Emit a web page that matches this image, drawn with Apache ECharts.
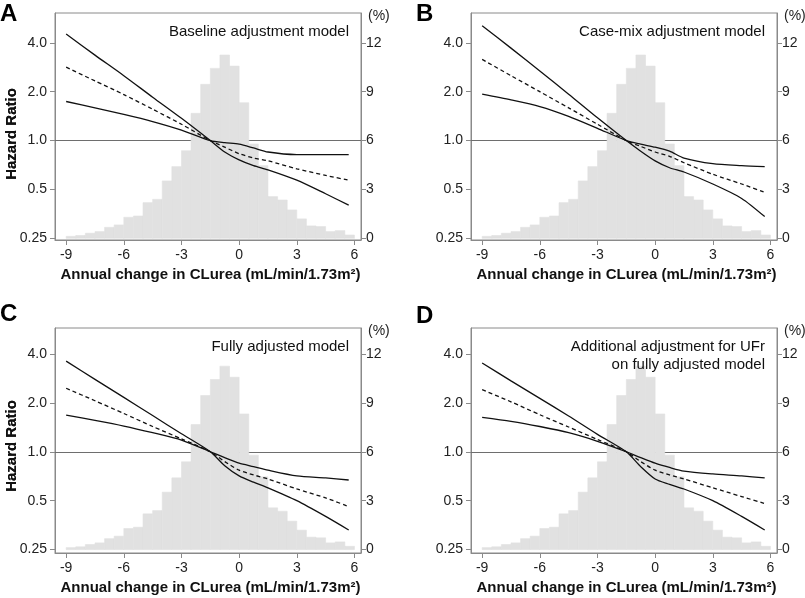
<!DOCTYPE html>
<html>
<head>
<meta charset="utf-8">
<script src="https://cdn.jsdelivr.net/npm/echarts@6/dist/echarts.min.js"></script>
<style>
html,body{margin:0;padding:0;background:#fff;}
#chart{width:805px;height:598px;}
</style>
</head>
<body>
<div id="chart"></div>
<script>
// ---------- data ----------
const panelLetters = ['A', 'B', 'C', 'D'];
const panelTitles = [
  ['Baseline adjustment model'],
  ['Case-mix adjustment model'],
  ['Fully adjusted model'],
  ['Additional adjustment for UFr', 'on fully adjusted model']
];
const xTitle = 'Annual change in CLurea (mL/min/1.73m\u00B2)';
const yTitle = 'Hazard Ratio';
const xTicks = [-9, -6, -3, 0, 3, 6];
const hrTicks = [0.25, 0.5, 1.0, 2.0, 4.0];
const hrTickLabels = ['0.25', '0.5', '1.0', '2.0', '4.0'];
const pctTicks = [0, 3, 6, 9, 12];
const pctTickLabels = ['0', '3', '6', '9', '12'];
const refHR = 1.0;

// histogram (%), bins of width 0.5 from -9 to 6
const binStart = [-9, -8.5, -8, -7.5, -7, -6.5, -6, -5.5, -5, -4.5, -4, -3.5, -3, -2.5, -2,
                  -1.5, -1, -0.5, 0, 0.5, 1, 1.5, 2, 2.5, 3, 3.5, 4, 4.5, 5, 5.5];
const binWidth = 0.5;
const histPct = [0.12, 0.17, 0.31, 0.41, 0.67, 0.82, 1.29, 1.37, 2.19, 2.39, 3.52, 4.40, 5.38, 7.67, 9.45,
                 10.43, 11.25, 10.57, 8.32, 5.79, 4.46, 2.56, 2.35, 1.74, 1.19, 0.76, 0.72, 0.41, 0.47, 0.20];

// spline curves (hazard ratio) evaluated at these x values
const curveX = [-9, -7.5, -6, -4.5, -3, -1.5, -0.75, 0, 0.75, 1.5, 3, 4.5, 5.7];
// Panel A
const aSteep  = [4.53, 3.36, 2.51, 1.85, 1.37, 1.00, 0.85, 0.76, 0.70, 0.66, 0.57, 0.47, 0.40];
const aHR     = [2.83, 2.33, 1.92, 1.56, 1.26, 1.00, 0.91, 0.83, 0.78, 0.75, 0.67, 0.61, 0.57];
const aFlat   = [1.74, 1.59, 1.45, 1.31, 1.16, 1.00, 0.97, 0.95, 0.90, 0.85, 0.82, 0.82, 0.82];
// Panel B
const bSteep  = [5.10, 3.71, 2.68, 1.93, 1.38, 1.00, 0.86, 0.75, 0.68, 0.64, 0.54, 0.44, 0.34];
const bHR     = [3.16, 2.51, 2.00, 1.59, 1.26, 1.00, 0.92, 0.85, 0.80, 0.73, 0.62, 0.54, 0.48];
const bFlat   = [1.93, 1.78, 1.62, 1.41, 1.19, 1.00, 0.95, 0.91, 0.86, 0.78, 0.72, 0.70, 0.69];
// Panel C
const cSteep  = [3.61, 2.79, 2.16, 1.67, 1.29, 1.00, 0.82, 0.71, 0.65, 0.60, 0.50, 0.40, 0.33];
const cHR     = [2.46, 2.06, 1.72, 1.43, 1.20, 1.00, 0.87, 0.77, 0.72, 0.68, 0.59, 0.52, 0.46];
const cFlat   = [1.68, 1.56, 1.44, 1.31, 1.18, 1.00, 0.92, 0.85, 0.81, 0.77, 0.71, 0.69, 0.67];
// Panel D
const dSteep  = [3.52, 2.73, 2.13, 1.66, 1.28, 1.00, 0.81, 0.68, 0.63, 0.59, 0.50, 0.40, 0.33];
const dHR     = [2.41, 2.03, 1.69, 1.42, 1.19, 1.00, 0.87, 0.77, 0.72, 0.68, 0.60, 0.53, 0.48];
const dFlat   = [1.63, 1.54, 1.43, 1.31, 1.16, 1.00, 0.92, 0.85, 0.80, 0.76, 0.73, 0.71, 0.69];

const panelCurves = [
  [aSteep, aHR, aFlat],
  [bSteep, bHR, bFlat],
  [cSteep, cHR, cFlat],
  [dSteep, dHR, dFlat]
];

// ---------- layout ----------
const FONT = 'Liberation Sans, Arial, Helvetica, sans-serif';
const xMin = -9.58, xMax = 6.34;
const layouts = [
  {left: 55,  top: 13,  width: 306, height: 227, yMin: -2.035, yMax: 2.61, yTitleY: 134},
  {left: 471, top: 13,  width: 306, height: 227, yMin: -2.035, yMax: 2.61, yTitleY: 134},
  {left: 55,  top: 328, width: 306, height: 225, yMin: -2.07,  yMax: 2.53, yTitleY: 446},
  {left: 471, top: 328, width: 306, height: 225, yMin: -2.07,  yMax: 2.53, yTitleY: 446}
];
const letterPos = [[0, 2], [416, 2], [0, 302], [416, 304]];

const log2 = v => Math.log(v) / Math.LN2;
const axisColor = '#8a8a8a';
const labelColor = '#222';

const grids = [], xAxes = [], yAxes = [], series = [], graphics = [];

layouts.forEach((L, i) => {
  grids.push({left: L.left, top: L.top, width: L.width, height: L.height,
              show: true, borderColor: axisColor, borderWidth: 1, backgroundColor: 'transparent'});
  xAxes.push({
    type: 'value', gridIndex: i, min: xMin, max: xMax, position: 'bottom',
    name: xTitle, nameLocation: 'middle', nameGap: 27,
    nameTextStyle: {fontFamily: FONT, fontSize: 15, fontWeight: 'bold', color: '#111', padding: [0, 0, 0, 5]},
    axisLine: {show: true, onZero: false, lineStyle: {color: axisColor}},
    axisTick: {show: true, length: 5, customValues: xTicks, lineStyle: {color: axisColor}},
    axisLabel: {customValues: xTicks, margin: 8, fontFamily: FONT, fontSize: 14, color: labelColor,
                formatter: v => String(v)},
    splitLine: {show: false}
  });
  const hrT = hrTicks.map(log2);
  yAxes.push({
    type: 'value', gridIndex: i, position: 'left', min: L.yMin, max: L.yMax,
    axisLine: {show: true, onZero: false, lineStyle: {color: axisColor}},
    axisTick: {show: true, length: 5, customValues: hrT, lineStyle: {color: axisColor}},
    axisLabel: {customValues: hrT, margin: 8, fontFamily: FONT, fontSize: 14, color: labelColor,
                formatter: v => {
                  const k = hrT.findIndex(t => Math.abs(t - v) < 1e-6);
                  return k >= 0 ? hrTickLabels[k] : '';
                }},
    splitLine: {show: false}
  });
  yAxes.push({
    type: 'value', gridIndex: i, position: 'right', min: (L.yMin + 2) * 3, max: (L.yMax + 2) * 3,
    axisLine: {show: true, onZero: false, lineStyle: {color: axisColor}},
    axisTick: {show: true, length: 5, customValues: pctTicks, lineStyle: {color: axisColor}},
    axisLabel: {customValues: pctTicks, margin: 5, fontFamily: FONT, fontSize: 14, color: labelColor,
                formatter: v => {
                  const k = pctTicks.findIndex(t => Math.abs(t - v) < 1e-6);
                  return k >= 0 ? pctTickLabels[k] : '';
                }},
    splitLine: {show: false}
  });

  // histogram on right axis
  series.push({
    type: 'custom', xAxisIndex: i, yAxisIndex: 2 * i + 1, z: 2, silent: true,
    encode: {x: [0, 1], y: 2},
    data: binStart.map((b, k) => [b, b + binWidth, histPct[k]]),
    renderItem: (params, api) => {
      const p0 = api.coord([api.value(0), api.value(2)]);
      const p1 = api.coord([api.value(1), 0]);
      return {type: 'rect',
              shape: {x: p0[0], y: p0[1], width: p1[0] - p0[0], height: p1[1] - p0[1]},
              style: {fill: '#e1e1e1', stroke: '#e1e1e1', lineWidth: 0.6}};
    }
  });

  const [steep, hr, flat] = panelCurves[i];
  const mk = (arr, dashed, withRef) => {
    const s = {
      type: 'line', xAxisIndex: i, yAxisIndex: 2 * i, z: 3, silent: true,
      showSymbol: false, symbol: 'none', smooth: 0.25,
      data: curveX.map((x, k) => [x, log2(arr[k])]),
      lineStyle: {color: '#111', width: 1.3, type: dashed ? [4, 3] : 'solid'}
    };
    if (withRef) {
      s.markLine = {silent: true, symbol: 'none', z: 1, label: {show: false},
                    lineStyle: {color: '#6e6e6e', width: 1.2, type: 'solid'},
                    data: [{yAxis: log2(refHR)}]};
    }
    return s;
  };
  series.push(mk(steep, false, true));
  series.push(mk(hr, true, false));
  series.push(mk(flat, false, false));

  // panel title inside plot
  const tl = panelTitles[i];
  tl.forEach((t, j) => {
    graphics.push({type: 'text', z: 10,
      style: {text: t, x: L.left + L.width - 12, y: L.top + 19 + j * 17.5,
              textAlign: 'right', textVerticalAlign: 'middle',
              font: '15px ' + FONT, fill: '#111'}});
  });
  // y-axis title
  graphics.push({type: 'text', z: 10, x: 12, y: L.yTitleY, rotation: Math.PI / 2,
    style: {text: yTitle, x: 0, y: 0, textAlign: 'center', textVerticalAlign: 'middle',
            font: 'bold 15px ' + FONT, fill: '#111'}});
  // (%) label
  graphics.push({type: 'text', z: 10,
    style: {text: '(%)', x: L.left + L.width + 7, y: L.top + 3,
            textAlign: 'left', textVerticalAlign: 'middle',
            font: '14px ' + FONT, fill: labelColor}});
  // panel letter
  graphics.push({type: 'text', z: 10,
    style: {text: panelLetters[i], x: letterPos[i][0], y: letterPos[i][1],
            textAlign: 'left', textVerticalAlign: 'top',
            font: 'bold 24px ' + FONT, fill: '#000'}});
});

const chart = echarts.init(document.getElementById('chart'), null, {renderer: 'canvas'});
chart.setOption({
  animation: false,
  backgroundColor: '#fff',
  grid: grids,
  xAxis: xAxes,
  yAxis: yAxes,
  series: series,
  graphic: graphics
});
</script>
</body>
</html>
